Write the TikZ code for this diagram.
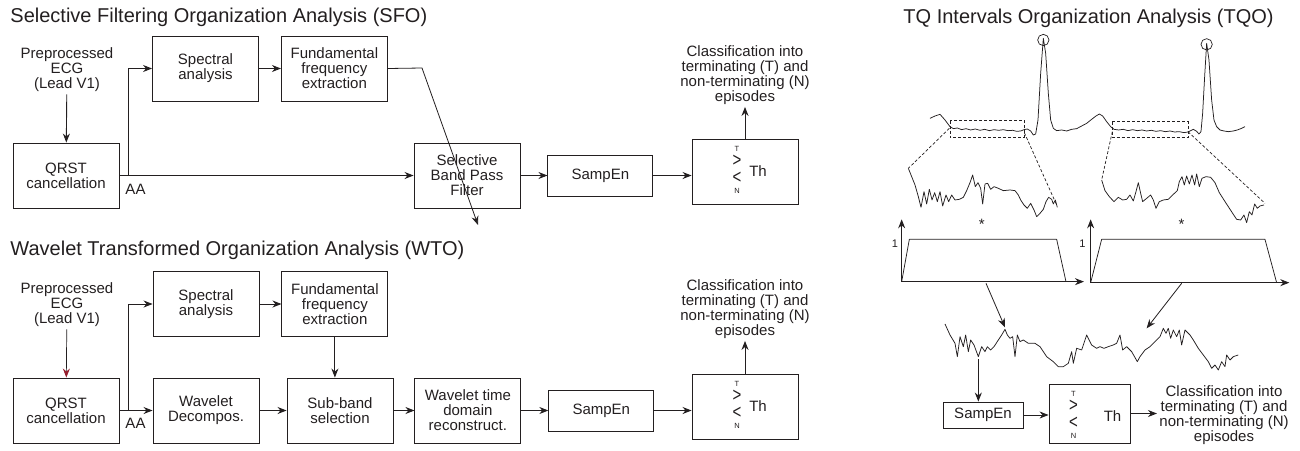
\documentclass[tikz,border=0pt]{standalone}
\usepackage{fontspec}
\setmainfont{Liberation Sans}
\usetikzlibrary{arrows.meta, positioning}

\definecolor{ink}{RGB}{35,31,32}
\definecolor{tipred}{RGB}{150,30,45}

% decision symbol inside a threshold box: #1 box, #2 dx, #3 dy, #4 dx of "Th"
\newcommand{\thresh}[4]{%
  \node[inner sep=0pt] (#1-sym) at ([shift={(#2,#3-2)}]#1.center)
    {\shortstack{\fontsize{7.5}{7.5}\selectfont T\\[1pt]
      \fontsize{15}{15}\selectfont\scalebox{1}[1.3]{>}\\[3pt]
      \fontsize{15}{15}\selectfont\scalebox{1}[1.3]{<}\\[1pt]
      \fontsize{7.5}{7.5}\selectfont N}};
  \node[note] (#1-th) at ([shift={(#4,#3)}]#1.center) {Th};
}

\begin{document}
\begin{tikzpicture}[x=1pt,y=-1pt,>={Stealth[length=9pt,width=7pt]},color=ink,line width=0.9pt,
  block/.style={rectangle,draw,minimum width=106pt,minimum height=65pt,align=center,
    inner sep=2pt,font=\fontsize{15}{15}\selectfont},
  note/.style={align=center,inner sep=2pt,font=\fontsize{15}{15}\selectfont},
  title/.style={anchor=base west,inner sep=0pt,font=\fontsize{20}{24}\selectfont},
  small sign/.style={inner sep=0pt,font=\fontsize{11}{11}\selectfont},
  trace/.style={line width=0.75pt,line join=round},
  zoombox/.style={line width=0.7pt,dash pattern=on 3pt off 2pt}]

  \useasboundingbox (0,0) rectangle (1300,450);

  % ---- SFO
  \node[title] (sfo) at (10,22) {Selective Filtering Organization Analysis (SFO)};
  \node[note] (ecg1) at (67,70) {Preprocessed\\ECG\\(Lead V1)};
  \node[block] (qrst1) at (66,175.5) {QRST\\cancellation};
  \node[block] (spec1) at (205.5,68.5) {Spectral\\analysis};
  \node[block,right=22pt of spec1] (fund1) {Fundamental\\frequency\\extraction};
  \node[block] (sbpf) at (467,175.5) {Selective\\Band Pass\\Filter};
  \node[block,minimum width=105pt,minimum height=41pt,right=27pt of sbpf] (samp1) {SampEn};
  \node[block] (th1) at (745,171.5) {};
  \node[note] (class1) at (745,75) {Classification into\\terminating (T) and\\non-terminating (N)\\episodes};
  \thresh{th1}{-8}{0}{13}
  \node[note] (aa1-lbl) at (135.5,189) {AA};
  \coordinate (aa1) at (128,175.5);
  \coordinate (f1-bend) at (422,68);
  \coordinate (f1-end) at (478,225);

  \draw[->] (ecg1) -- (qrst1);
  \draw[->] (qrst1.east) -- (sbpf.west);
  \draw[->] (aa1) |- (spec1.west);
  \draw[->] (spec1) -- (fund1);
  \draw[->,line width=0.8pt] (fund1.east) -- (f1-bend) -- (f1-end);
  \draw[->] (sbpf) -- (samp1);
  \draw[->] (samp1.east) -- (samp1.east -| th1.west);
  \draw[->] (th1) -- (class1);

  % ---- WTO
  \node[title] (wto) at (10,255) {Wavelet Transformed Organization Analysis (WTO)};
  \node[note] (ecg2) at (67,305) {Preprocessed\\ECG\\(Lead V1)};
  \node[block] (qrst2) at (66,410.5) {QRST\\cancellation};
  \node[block] (spec2) at (206,304) {Spectral\\analysis};
  \node[block,right=22pt of spec2] (fund2) {Fundamental\\frequency\\extraction};
  \node[block] (wav2) at (206,410.5) {Wavelet\\Decompos.};
  \node[block] (sub2) at (340,410.5) {Sub-band\\selection};
  \node[block,right=21pt of sub2] (rec2) {Wavelet time\\domain\\reconstruct.};
  \node[block,minimum width=105pt,minimum height=41pt,right=27pt of rec2] (samp2) {SampEn};
  \node[block] (th2) at (745,406.5) {};
  \node[note] (class2) at (745,309) {Classification into\\terminating (T) and\\non-terminating (N)\\episodes};
  \thresh{th2}{-8}{0}{13}
  \node[note] (aa2-lbl) at (135.5,423) {AA};
  \coordinate (aa2) at (128,410.5);

  \draw[-{Stealth[length=9pt,width=7pt,color=tipred]},line width=0.7pt] (ecg2) -- (qrst2);
  \draw[->] (qrst2.east) -- (wav2.west);
  \draw[->] (aa2) |- (spec2.west);
  \draw[->] (spec2) -- (fund2);
  \draw[->] (fund2.south) -- (fund2.south |- sub2.north);
  \draw[->] (wav2) -- (sub2);
  \draw[->] (sub2) -- (rec2);
  \draw[->] (rec2) -- (samp2);
  \draw[->] (samp2.east) -- (samp2.east -| th2.west);
  \draw[->] (th2) -- (class2);

  % ---- TQO
  \node[title] (tqo) at (903,23) {TQ Intervals Organization Analysis (TQO)};

  \begin{scope}[shift={(900,0)},x=0.3333pt,y=-0.3333pt]
    \draw[trace] plot coordinates {(90,355) (105,348) (120,343) (135,360) (150,380) (160,386)
      (172,384) (185,389) (198,386) (212,390) (226,387) (240,391) (254,388) (268,392) (282,389)
      (296,391) (310,389) (324,392) (338,391) (350,394) (362,393) (372,389) (382,387) (392,393)
      (400,405) (407,402) (414,360) (422,220) (430,115) (437,160) (445,280) (452,360) (460,385)
      (470,392) (485,390) (500,393) (515,388) (530,386) (545,378) (560,370) (575,358) (588,348)
      (598,342) (608,348) (620,365) (632,380) (642,388) (656,390) (670,388) (684,392) (698,389)
      (712,392) (726,390) (740,393) (754,391) (768,394) (782,392) (796,395) (810,393) (824,396)
      (838,395) (852,398) (864,396) (872,392) (880,388) (890,394) (897,402) (903,395) (908,340)
      (914,230) (920,130) (927,180) (935,300) (942,360) (950,380) (960,390) (972,393) (985,395)
      (1000,393) (1012,390) (1025,385) (1035,380)};
    \draw[line width=0.7pt] (430,120) circle (17);
    \draw[line width=0.7pt] (920,133) circle (17);
    \draw[zoombox] (150,362) rectangle (373,412);
    \draw[zoombox] (637,365) rectangle (864,412);
    \draw[zoombox] (148,385) -- (25,505);
    \draw[zoombox] (373,398) -- (470,615);
    \draw[zoombox] (637,395) -- (605,540);
    \draw[zoombox] (864,395) -- (1095,610);
    \draw[trace] plot coordinates {(25,505) (35,530) (45,555) (55,590) (63,622) (72,575) (80,612)
      (88,568) (96,600) (104,578) (112,605) (120,575) (128,618) (138,585) (146,605) (155,585)
      (165,600) (178,598) (190,592) (200,572) (210,548) (218,525) (226,560) (234,548) (242,565)
      (248,612) (255,552) (263,550) (272,568) (282,560) (295,565) (310,572) (330,570) (345,572)
      (355,585) (362,600) (372,615) (382,625) (392,610) (402,630) (410,650) (420,640) (430,628)
      (438,605) (446,592) (455,598) (460,612) (466,600) (472,622)};
    \draw[trace] plot coordinates {(605,540) (615,572) (628,590) (642,605) (655,592) (668,600)
      (680,598) (690,585) (700,603) (708,575) (715,548) (722,580) (728,605) (740,595) (752,585)
      (760,600) (768,625) (778,605) (790,600) (805,598) (818,585) (832,572) (838,545) (846,530)
      (853,555) (860,528) (868,552) (876,525) (884,555) (890,522) (898,560) (906,535) (918,530)
      (932,532) (945,548) (958,578) (972,600) (985,620) (998,640) (1010,658) (1022,660) (1032,645)
      (1040,668) (1048,635) (1056,645) (1064,612) (1072,625) (1080,618) (1092,615)};
    \node[note] (star1) at (245,672) {*};
    \node[note] (star2) at (845,672) {*};
  \end{scope}

  % windows
  \begin{scope}[shift={(880,180)},x=0.3333pt,y=-0.3333pt]
    \draw[->] (65,305) -- (65,118);
    \draw[->] (65,305) -- (612,305);
    \draw[trace] (65,305) -- (88,178) -- (530,178) -- (558,305);
    \node[small sign] (one1) at (45,190) {1};
    \draw[->] (632,308) -- (632,118);
    \draw[->] (632,308) -- (1228,308);
    \draw[trace] (632,308) -- (665,178) -- (1155,178) -- (1190,308);
    \node[small sign] (one2) at (607,190) {1};
  \end{scope}

  % windowed result
  \begin{scope}[shift={(900,220)},x=0.3333pt,y=-0.3333pt]
    \coordinate (w1-out) at (258,190);
    \coordinate (w1-in) at (315,322);
    \coordinate (w2-out) at (845,190);
    \coordinate (w2-in) at (740,325);
    \coordinate (tq-out) at (235,418);
    \draw[trace] plot coordinates {(135,312) (150,345) (165,370) (172,410) (180,350) (190,380)
      (197,345) (205,395) (212,360) (222,375) (235,410) (245,380) (255,395) (262,380) (272,390)
      (282,380) (295,360) (305,345) (315,328) (322,345) (330,355) (338,350) (345,410) (352,345)
      (360,365) (370,360) (385,370) (405,370) (420,380) (440,410) (460,425) (475,440) (490,440)
      (505,430) (515,395) (520,430) (530,385) (545,390) (560,345) (575,375) (590,385) (600,380)
      (612,385) (625,380) (640,375) (650,370) (660,345) (668,390) (680,380) (695,395) (712,425)
      (720,410) (735,390) (750,380) (770,360) (780,350) (790,325) (798,340) (805,325) (812,355)
      (820,330) (830,350) (838,330) (845,375) (855,330) (870,345) (880,360) (895,385) (910,405)
      (925,425) (935,445) (945,435) (955,450) (965,425) (975,440) (980,405) (990,420) (1000,410)
      (1015,405)};
  \end{scope}
  \draw[->,line width=0.8pt] (w1-out) -- (w1-in);
  \draw[->,line width=0.8pt] (w2-out) -- (w2-in);

  \node[block,minimum width=80pt,minimum height=26pt] (samp3) at (983,415) {SampEn};
  \node[block,minimum width=81pt,minimum height=59pt] (th3) at (1089.5,413.5) {};
  \node[note] (class3) at (1224,415.5) {Classification into\\terminating (T) and\\non-terminating (N)\\episodes};
  \thresh{th3}{-16}{3}{23}

  \draw[->] (tq-out) -- (tq-out |- samp3.north);
  \draw[->] (samp3.east) -- (samp3.east -| th3.west);
  \draw[->] (th3.east) -- (th3.east -| class3.west);

\end{tikzpicture}
\end{document}
